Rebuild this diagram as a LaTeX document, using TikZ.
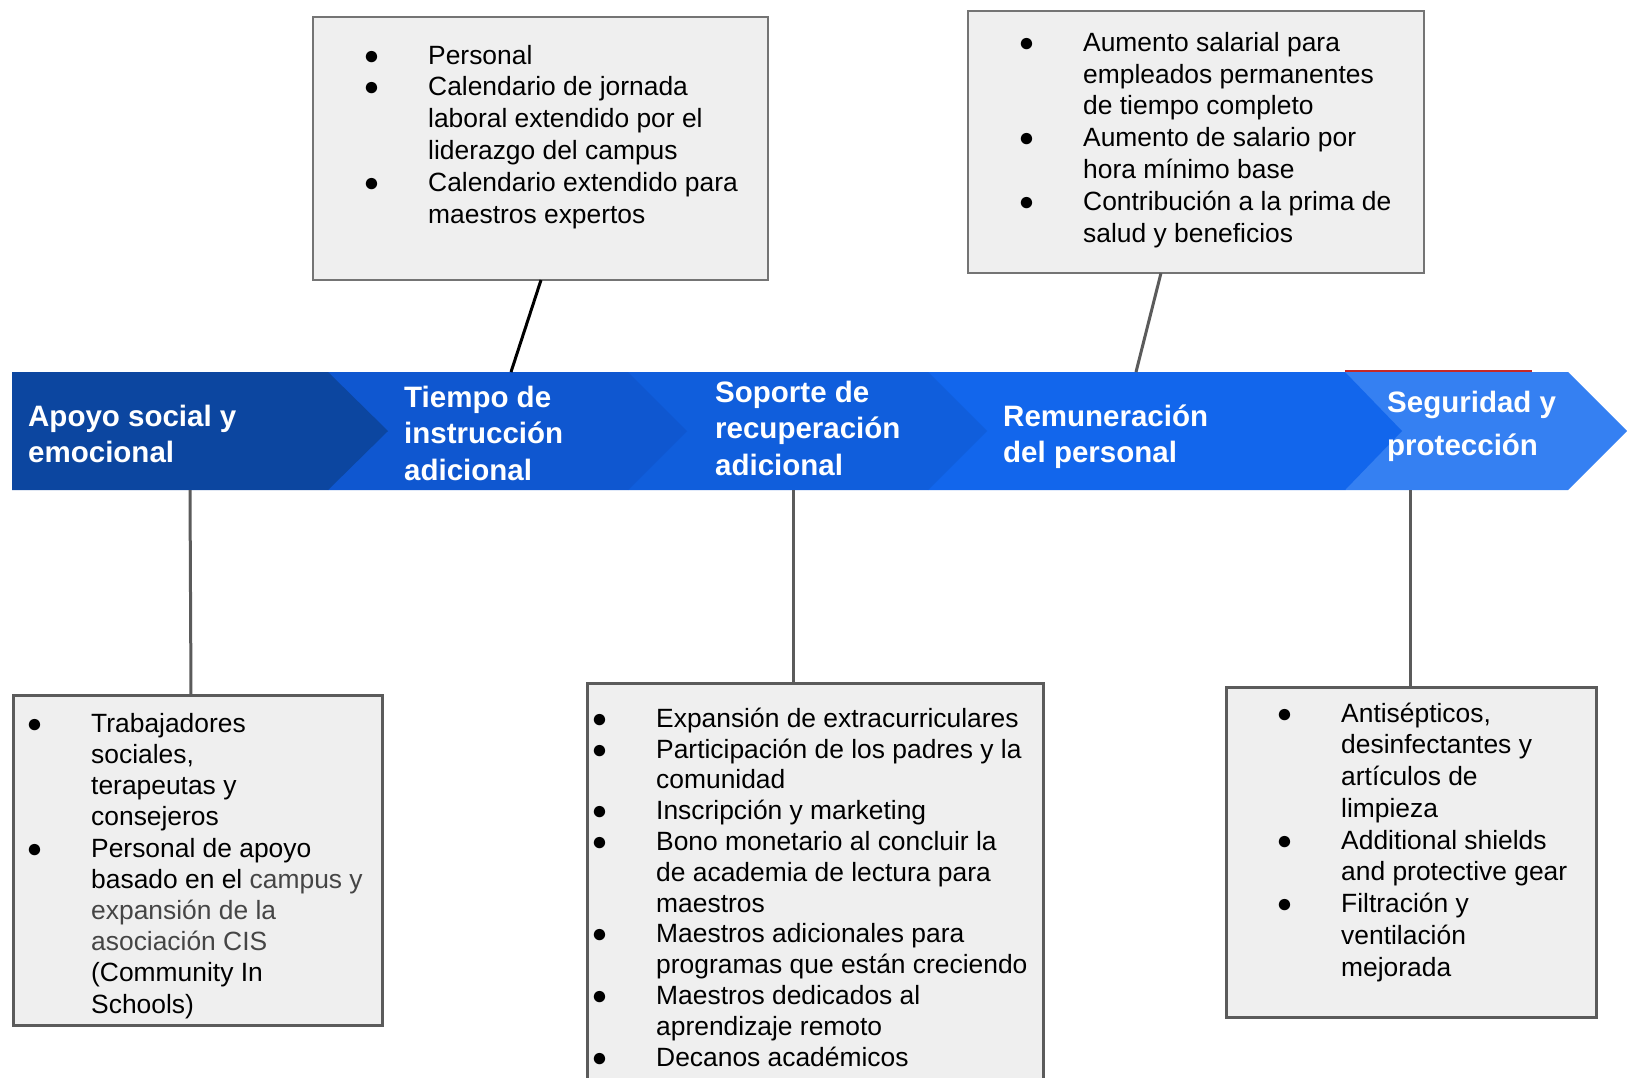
\documentclass[tikz,border=0pt]{standalone}
\usepackage{fontspec}
\setmainfont{Liberation Sans}
\usepackage{xcolor}
\definecolor{segA}{HTML}{0C46A0}
\definecolor{segB}{HTML}{0F57D0}
\definecolor{segC}{HTML}{105EDC}
\definecolor{segD}{HTML}{1266EC}
\definecolor{segE}{HTML}{3580F2}
\definecolor{boxfill}{HTML}{EFEFEF}
\definecolor{boxline}{HTML}{5B5B5B}
\definecolor{boxlinelight}{HTML}{747474}
\definecolor{greytext}{HTML}{454545}
\definecolor{redline}{HTML}{C62828}
\newcommand{\bul}{\llap{\makebox[0pt][c]{●}\hspace{56.5pt}}}
\begin{document}
\begin{tikzpicture}[x=1pt,y=-1pt,
  boxtop/.style={draw=boxlinelight, fill=boxfill, line width=2pt, inner sep=0pt},
  boxbot/.style={draw=boxline, fill=boxfill, line width=3pt, inner sep=0pt},
  listtext/.style={anchor=base west, align=left, inner sep=0pt, text=black},
  bandtext/.style={anchor=base west, align=left, inner sep=0pt, text=white, font=\bfseries\fontsize{29.5}{36}\selectfont},
  link/.style={draw=boxline, line width=3pt},
  linkdark/.style={draw=black, line width=3pt}]
\useasboundingbox (0,0) rectangle (1627,1077);
\clip (0,0) rectangle (1627,1077);
\fill[white] (0,0) rectangle (1627,1077);

% band (later segments underneath earlier tips)
\draw[redline, line width=1.5pt] (1345,371) -- (1532,371);
\fill[segE] (1345,372) -- (1568,372) -- (1627,431) -- (1568,490) -- (1345,490) -- cycle;
\fill[segD] (928,372) -- (1345,372) -- (1402,431) -- (1345,490) -- (928,490) -- cycle;
\fill[segC] (628,372) -- (928,372) -- (987,431) -- (928,490) -- (628,490) -- cycle;
\fill[segB] (328,372) -- (628,372) -- (687,431) -- (628,490) -- (328,490) -- cycle;
\fill[segA] (12,372) -- (328,372) -- (388,431) -- (328,490) -- (12,490) -- cycle;

% band labels (anchored at the baseline of their last line)
\node[bandtext] (h1) at (28,462) {Apoyo social y\\emocional};
\node[bandtext, font=\bfseries\fontsize{29.5}{36.5}\selectfont] (h2) at (404,480) {Tiempo de\\instrucción\\adicional};
\node[bandtext, font=\bfseries\fontsize{29.5}{36.5}\selectfont] (h3) at (715,475) {Soporte de\\recuperación\\adicional};
\node[bandtext] (h4) at (1003,462) {Remuneración\\del personal};
\node[bandtext, font=\bfseries\fontsize{29.5}{43}\selectfont] (h5) at (1387,455) {Seguridad y\\protección};

% anchor points on the band
\coordinate (b1) at (511,372);
\coordinate (b2) at (1136,372);
\coordinate (b3) at (190,490);
\coordinate (b4) at (793,490);
\coordinate (b5) at (1410,490);

% boxes
\node[boxtop, minimum width=455pt, minimum height=263pt] (tl) at (540.5,148.5) {};
\node[boxtop, minimum width=456pt, minimum height=262pt] (tr) at (1196,142) {};
\node[boxbot, minimum width=369pt, minimum height=330pt] (bl) at (197.5,860) {};
\node[boxbot, minimum width=456pt, minimum height=420pt] (bm) at (815,893) {};
\node[boxbot, minimum width=370pt, minimum height=330pt] (br) at (1411,852) {};

\coordinate (tla) at (541,280);
\coordinate (tra) at (1161,273);
\coordinate (bla) at (191,695);
\coordinate (bma) at (793,683);
\coordinate (bra) at (1410,687);

% connectors
\draw[linkdark] (tla) -- (b1);
\draw[link] (tra) -- (b2);
\draw[link] (b3) -- (bla);
\draw[link] (b4) -- (bma);
\draw[link] (b5) -- (bra);

% list texts (anchored at the baseline of their last line)
\node[listtext, font=\fontsize{26.4}{31.8}\selectfont] (tlt) at (428,223)
 {\bul Personal\\
  \bul Calendario de jornada\\
  laboral extendido por el\\
  liderazgo del campus\\
  \bul Calendario extendido para\\
  maestros expertos};

\node[listtext, font=\fontsize{26.4}{31.8}\selectfont] (trt) at (1083,242)
 {\bul Aumento salarial para\\
  empleados permanentes\\
  de tiempo completo\\
  \bul Aumento de salario por\\
  hora mínimo base\\
  \bul Contribución a la prima de\\
  salud y beneficios};

\node[listtext, font=\fontsize{26.4}{31.2}\selectfont] (blt) at (91,1013)
 {\bul Trabajadores\\
  sociales,\\
  terapeutas y\\
  consejeros\\
  \bul Personal de apoyo\\
  basado en el \textcolor{greytext}{campus y}\\
  \textcolor{greytext}{expansión de la}\\
  \textcolor{greytext}{asociación CIS}\\
  (Community In\\
  Schools)};

\node[listtext, font=\fontsize{26.4}{30.8}\selectfont] (bmt) at (656,1066)
 {\bul Expansión de extracurriculares\\
  \bul Participación de los padres y la\\
  comunidad\\
  \bul Inscripción y marketing\\
  \bul Bono monetario al concluir la\\
  de academia de lectura para\\
  maestros\\
  \bul Maestros adicionales para\\
  programas que están creciendo\\
  \bul Maestros dedicados al\\
  aprendizaje remoto\\
  \bul Decanos académicos};

\node[listtext, font=\fontsize{26.4}{31.75}\selectfont] (brt) at (1341,976)
 {\bul Antisépticos,\\
  desinfectantes y\\
  artículos de\\
  limpieza\\
  \bul Additional shields\\
  and protective gear\\
  \bul Filtración y\\
  ventilación\\
  mejorada};
\end{tikzpicture}
\end{document}
